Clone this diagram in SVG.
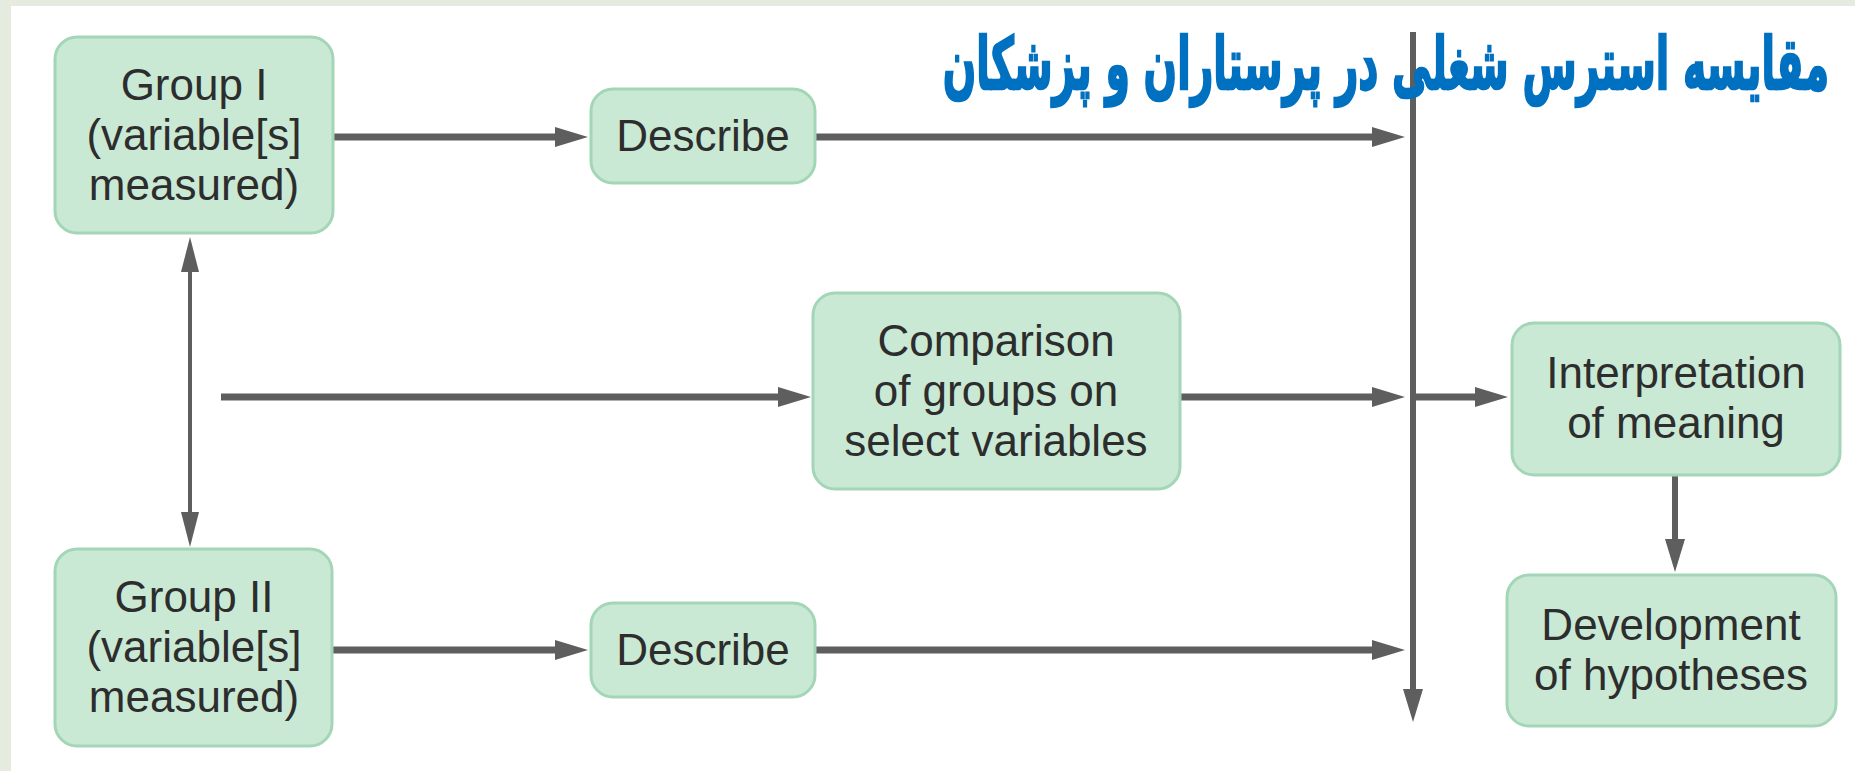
<svg xmlns="http://www.w3.org/2000/svg" width="1855" height="771" viewBox="0 0 1855 771">
  <defs>
    <style>
      .box { fill: #c9e9d5; stroke: #a3d6b6; stroke-width: 3; }
      .lbl { font-family: "Liberation Sans", Arial, Helvetica, sans-serif; font-size: 44px; fill: #2d2d2d; text-anchor: middle; }
      .thick { stroke: #5e5e5e; stroke-width: 7; fill: none; }
      .mid { stroke: #5e5e5e; stroke-width: 6; fill: none; }
      .thin { stroke: #5e5e5e; stroke-width: 4; fill: none; }
      .title { font-family: "DejaVu Sans", "Noto Sans", sans-serif; font-weight: bold; font-size: 72px; fill: #0070c0; stroke: #0070c0; stroke-width: 2.5; }
    </style>
    <marker id="ah" markerUnits="userSpaceOnUse" viewBox="0 -10 33 20" markerWidth="33" markerHeight="20" refX="0" refY="0" orient="auto">
      <path d="M0,-10 L33,0 L0,10 z" fill="#5e5e5e"/>
    </marker>
    <marker id="ahs" markerUnits="userSpaceOnUse" viewBox="0 -9 35 18" markerWidth="35" markerHeight="18" refX="0" refY="0" orient="auto-start-reverse">
      <path d="M0,-9 L35,0 L0,9 z" fill="#5e5e5e"/>
    </marker>
  </defs>

  <rect x="0" y="0" width="1855" height="771" fill="#ffffff"/>
  <rect x="0" y="0" width="1855" height="6" fill="#e6ebe0"/>
  <rect x="0" y="0" width="11" height="771" fill="#e6ebe0"/>

  <g id="connectors">
    <path class="thick" d="M333,137 H555" marker-end="url(#ah)"/>
    <path class="thick" d="M815,137 H1372" marker-end="url(#ah)"/>
    <path class="mid" d="M1413,32 V689" marker-end="url(#ah)"/>
    <path class="thick" d="M221,397 H778" marker-end="url(#ah)"/>
    <path class="thick" d="M1180,397 H1372" marker-end="url(#ah)"/>
    <path class="thick" d="M1413,397 H1475" marker-end="url(#ah)"/>
    <path class="thick" d="M332,650 H555" marker-end="url(#ah)"/>
    <path class="thick" d="M815,650 H1372" marker-end="url(#ah)"/>
    <path class="thin" d="M190,272 V512" marker-start="url(#ahs)" marker-end="url(#ahs)"/>
    <path class="mid" d="M1675,475 V539" marker-end="url(#ah)"/>
  </g>

  <g id="group1">
    <rect class="box" x="55" y="37" width="278" height="196" rx="22"/>
    <text class="lbl" x="194" y="100">Group I</text>
    <text class="lbl" x="194" y="150">(variable[s]</text>
    <text class="lbl" x="194" y="200">measured)</text>
  </g>

  <g id="describe1">
    <rect class="box" x="591" y="89" width="224" height="94" rx="22"/>
    <text class="lbl" x="703" y="151">Describe</text>
  </g>

  <g id="comparison">
    <rect class="box" x="813" y="293" width="367" height="196" rx="22"/>
    <text class="lbl" x="996" y="356">Comparison</text>
    <text class="lbl" x="996" y="406">of groups on</text>
    <text class="lbl" x="996" y="456">select variables</text>
  </g>

  <g id="group2">
    <rect class="box" x="55" y="549" width="277" height="197" rx="22"/>
    <text class="lbl" x="194" y="612">Group II</text>
    <text class="lbl" x="194" y="662">(variable[s]</text>
    <text class="lbl" x="194" y="712">measured)</text>
  </g>

  <g id="describe2">
    <rect class="box" x="591" y="603" width="224" height="94" rx="22"/>
    <text class="lbl" x="703" y="665">Describe</text>
  </g>

  <g id="interpretation">
    <rect class="box" x="1512" y="323" width="328" height="152" rx="22"/>
    <text class="lbl" x="1676" y="388">Interpretation</text>
    <text class="lbl" x="1676" y="438">of meaning</text>
  </g>

  <g id="development">
    <rect class="box" x="1507" y="575" width="329" height="151" rx="22"/>
    <text class="lbl" x="1671" y="640">Development</text>
    <text class="lbl" x="1671" y="690">of hypotheses</text>
  </g>

  <g id="title" transform="translate(1829,89) scale(0.546,1)">
    <text class="title" x="0" y="0" text-anchor="end">مقایسه استرس شغلی در پرستاران و پزشکان</text>
  </g>
</svg>
